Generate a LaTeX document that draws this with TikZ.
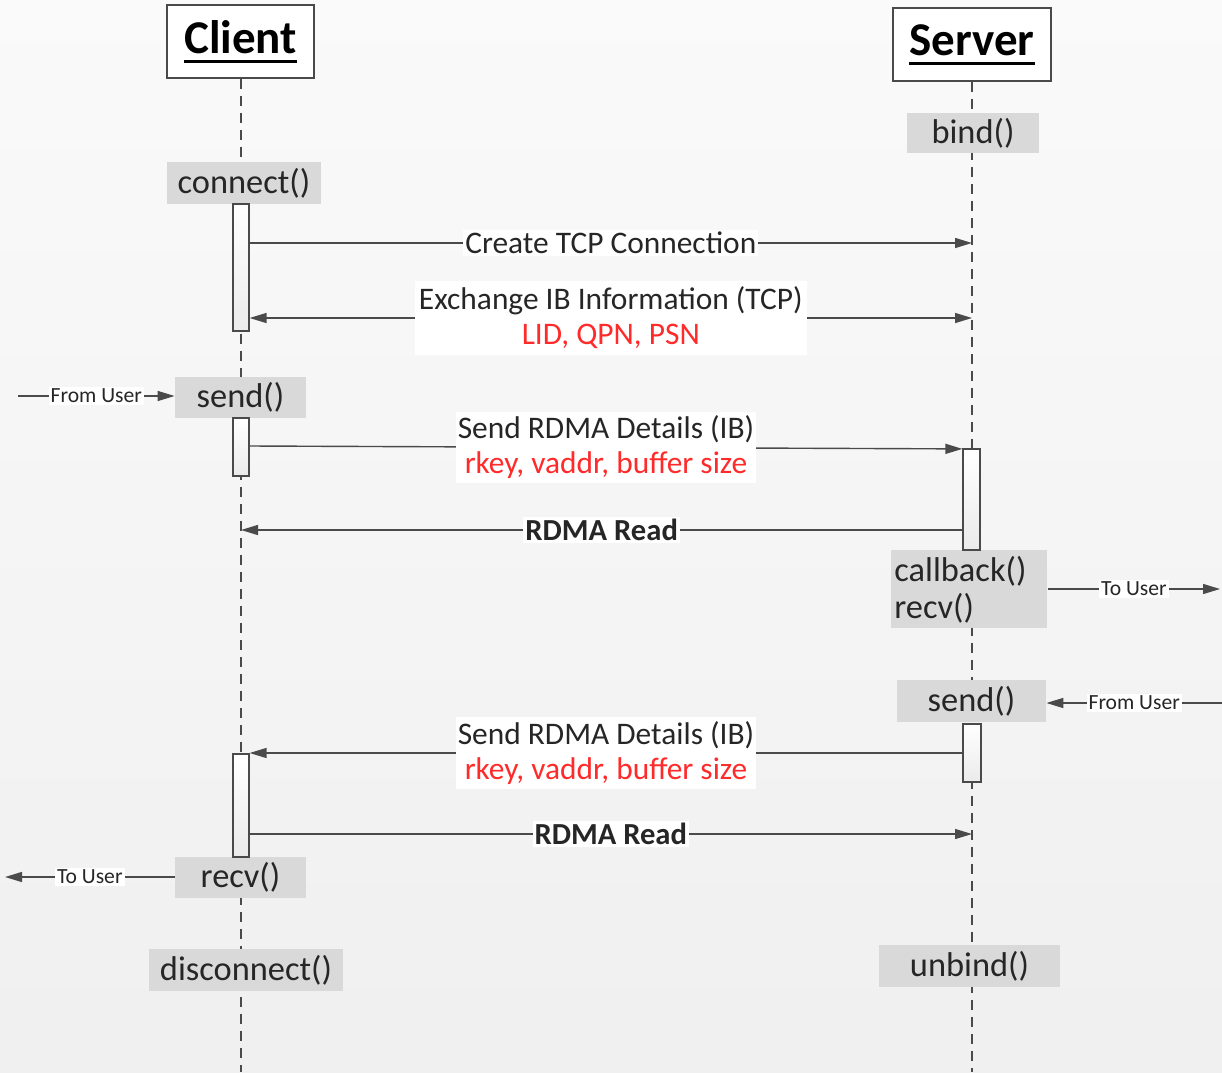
\documentclass[tikz,border=0pt]{standalone}
\usepackage{fontspec}
\setmainfont{Carlito}
\usetikzlibrary{arrows.meta,calc}
\definecolor{txt}{HTML}{262626}
\definecolor{ln}{HTML}{4A4A4A}
\definecolor{fn}{HTML}{D9D9D9}
\definecolor{rd}{HTML}{FF2A2A}
\newcommand\myul[1]{\setbox0\hbox{#1}\rlap{\rule[-4.6pt]{\wd0}{1.5pt}}#1}
\begin{document}
\begin{tikzpicture}[x=0.5pt,y=-0.5pt,
  title/.style={draw=ln,line width=0.9pt,fill=white,inner sep=0pt,font=\fontsize{23.5}{28}\selectfont\bfseries,text=black},
  fnbox/.style={fill=fn,inner sep=0pt,font=\fontsize{17.2}{19.5}\selectfont,text=txt},
  act/.style={draw=ln,line width=0.6pt,top color=white,bottom color=white!92!black,inner sep=0pt},
  life/.style={draw=ln,line width=0.7pt,dash pattern=on 5pt off 3.5pt},
  msg/.style={draw=ln,line width=0.7pt,-{Triangle[length=8.5pt,width=5pt]}},
  msgb/.style={draw=ln,line width=0.7pt,{Triangle[length=8.5pt,width=5pt]}-{Triangle[length=8.5pt,width=5pt]}},
  lbl/.style={fill=white,inner sep=1pt,font=\fontsize{15.7}{17.5}\selectfont,text=txt,align=center},
  blbl/.style={fill=white,inner sep=1pt,font=\fontsize{15.3}{17.5}\selectfont\bfseries,text=txt},
  slbl/.style={fill=white,inner sep=1pt,font=\fontsize{10.8}{13}\selectfont,text=txt},
  ]
\useasboundingbox (0,0) rectangle (1222,1072);
\shade[top color=white!98!black,bottom color=white!94!black] (0,0) rectangle (1222,1072);

% lifeline ends
\coordinate (cend) at (241,1072);
\coordinate (send) at (972,1072);

% headers
\node[title,minimum width=73.5pt,minimum height=36.5pt] (client) at (240.5,41.5) {\myul{Client}};
\node[title,minimum width=79pt,minimum height=36.5pt] (server) at (972,44.5) {\myul{Server}};

% lifelines
\draw[life] (client.south -| cend) -- (cend);
\draw[life] (server.south -| send) -- (send);

% function boxes
\node[fnbox,minimum width=66pt,minimum height=20pt] (bind) at (973,133) {bind()};
\node[fnbox,minimum width=77pt,minimum height=21pt] (connect) at (244,183) {connect()};
\node[fnbox,minimum width=65.5pt,minimum height=20.5pt] (csend) at (240.5,397.5) {send()};
\node[fnbox,minimum width=77.5pt,minimum height=39pt,align=left,anchor=north west,text width=75pt,inner xsep=1.5pt] (callback) at (891,550) {callback()\\[-1pt]recv()};
\node[fnbox,minimum width=74.5pt,minimum height=21pt] (ssend) at (971.5,701) {send()};
\node[fnbox,minimum width=65.5pt,minimum height=20.5pt] (crecv) at (240.5,877.5) {recv()};
\node[fnbox,minimum width=97pt,minimum height=21pt] (disc) at (246,970) {disconnect()};
\node[fnbox,minimum width=90.5pt,minimum height=21pt] (unbind) at (969.5,966) {unbind()};

% activation bars
\node[act,minimum width=8pt,minimum height=63.5pt] (a1) at (241,267.5) {};
\node[act,minimum width=8pt,minimum height=29pt] (a2) at (241,447) {};
\node[act,minimum width=8.5pt,minimum height=50.5pt] (a3) at (971.5,499.5) {};
\node[act,minimum width=9pt,minimum height=29pt] (a4) at (972,753) {};
\node[act,minimum width=8pt,minimum height=51.5pt] (a5) at (241,805.5) {};

% coordinates on lifelines / edges
\coordinate (s243) at (972,243);
\coordinate (s318) at (972,318);
\coordinate (c530) at (241,530);
\coordinate (s834) at (972,834);
\coordinate (fu1) at (18,396);
\coordinate (tu1) at (1220,589);
\coordinate (fu2) at (1222,703);
\coordinate (tu2) at (5,877);

% messages
\draw[msg] (a1.east |- s243) -- node[lbl]{Create TCP Connection} (s243);
\draw[msgb] (a1.east |- s318) -- node[lbl,inner xsep=2pt,inner ysep=3pt]{Exchange IB Information (TCP)\\\textcolor{rd}{LID, QPN, PSN}} (s318);
\draw[msg] (fu1) -- node[slbl]{From User} (csend.west |- fu1);
\draw[msg] ($(a2.east)+(0,-1)$) -- node[lbl,inner ysep=2pt]{Send RDMA Details (IB)\\\textcolor{rd}{rkey, vaddr, buffer size}} ($(a3.north west)+(0,0.5)$);
\draw[msg] (a3.west |- c530) -- node[blbl]{RDMA Read} (c530);
\draw[msg] (callback.east |- tu1) -- node[slbl]{To User} (tu1);
\draw[msg] (fu2) -- node[slbl]{From User} (ssend.east |- fu2);
\draw[msg] (a4.west) -- node[lbl,inner ysep=2pt]{Send RDMA Details (IB)\\\textcolor{rd}{rkey, vaddr, buffer size}} (a4.west -| a5.east);
\draw[msg] (a5.east |- s834) -- node[blbl]{RDMA Read} (s834);
\draw[msg] (crecv.west |- tu2) -- node[slbl]{To User} (tu2);
\end{tikzpicture}
\end{document}
